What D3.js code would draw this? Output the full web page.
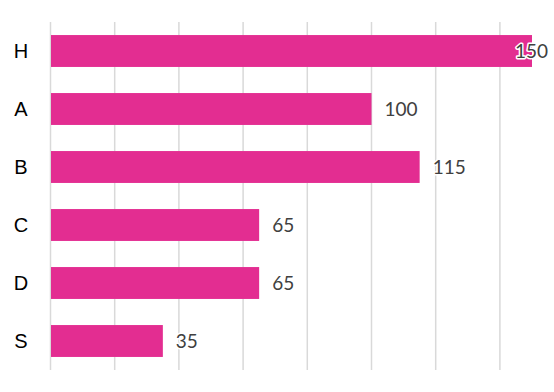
<!DOCTYPE html>
<html><head><meta charset="utf-8">
<script src="https://cdn.jsdelivr.net/npm/d3@7"></script>
<style>html,body{margin:0;padding:0;background:#fff;}</style>
</head><body>
<svg id="chart" width="554" height="392"></svg>
<script>
const categories = ["H", "A", "B", "C", "D", "S"];
const values = [150, 100, 115, 65, 65, 35];
const ticks = [0, 20, 40, 60, 80, 100, 120, 140];

const svg = d3.select("#chart");
const x = d3.scaleLinear().domain([0, 150]).range([50.5, 532]);
const y = d3.scaleBand().domain(categories).range([22, 370]).paddingInner(0.45).paddingOuter(0.225);

svg.append("g").selectAll("line").data(ticks).join("line")
  .attr("x1", d => x(d)).attr("x2", d => x(d))
  .attr("y1", 22).attr("y2", 370)
  .attr("stroke", "#d9d9d9").attr("stroke-width", 1.5);

svg.append("g").selectAll("rect").data(values).join("rect")
  .attr("x", x(0) + 0.5).attr("y", (d, i) => y(categories[i]))
  .attr("width", d => x(d) - x(0) - 0.5).attr("height", y.bandwidth())
  .attr("fill", "#e32d91");

svg.append("g").selectAll("text").data(categories).join("text")
  .attr("x", 21).attr("y", d => y(d) + y.bandwidth() / 2)
  .attr("dy", "0.36em").attr("text-anchor", "middle")
  .attr("font-family", "Liberation Sans, Arial, sans-serif").attr("font-size", 20)
  .attr("fill", "#000").text(d => d);

svg.append("g").selectAll("text").data(values).join("text")
  .attr("x", d => Math.min(x(d) + 13, 515))
  .attr("y", (d, i) => y(categories[i]) + y.bandwidth() / 2)
  .attr("dy", "0.37em")
  .attr("font-family", "Lato, sans-serif").attr("font-size", 19)
  .attr("fill", "#404040")
  .attr("stroke", "#fff").attr("stroke-width", 3).attr("paint-order", "stroke")
  .attr("stroke-linejoin", "round")
  .text(d => d);
</script>
</body></html>
